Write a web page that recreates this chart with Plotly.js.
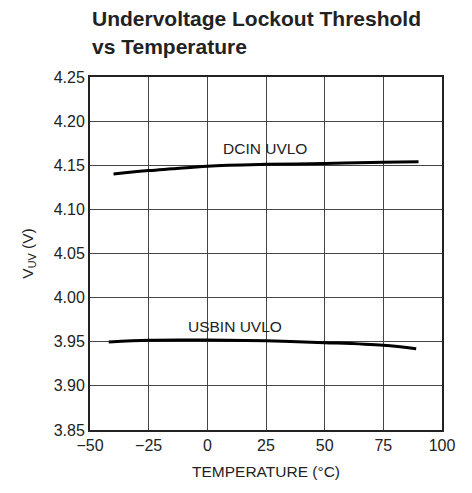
<!DOCTYPE html>
<html>
<head>
<meta charset="utf-8">
<script src="https://cdn.plot.ly/plotly-3.0.1.min.js"></script>
<style>html,body{margin:0;padding:0;background:#fff;}#chart{width:472px;height:493px;}</style>
</head>
<body>
<div id="chart"></div>
<script>
const tempDcin = [-40, -25, -15, 0, 25, 50, 75, 90];
const dcinUvlo = [4.1402, 4.1440, 4.1460, 4.1490, 4.1510, 4.1520, 4.1535, 4.1540];
const tempUsbin = [-42, -25, -10, 0, 25, 50, 75, 89];
const usbinUvlo = [3.9497, 3.9516, 3.9520, 3.9520, 3.9510, 3.9490, 3.9460, 3.9420];
const xTicks = [-50, -25, 0, 25, 50, 75, 100];
const xTickText = ['\u221250', '\u221225', '0', '25', '50', '75', '100'];
const yTicks = [3.85, 3.90, 3.95, 4.00, 4.05, 4.10, 4.15, 4.20, 4.25];
const yTickText = ['3.85', '3.90', '3.95', '4.00', '4.05', '4.10', '4.15', '4.20', '4.25'];
const seriesNames = ['DCIN UVLO', 'USBIN UVLO'];
const titleLines = ['Undervoltage Lockout Threshold', 'vs Temperature'];

const font = 'Liberation Sans, Arial, sans-serif';
const traces = [
  {x: tempDcin, y: dcinUvlo, name: seriesNames[0], mode: 'lines', line: {color: '#000', width: 3, shape: 'spline'}},
  {x: tempUsbin, y: usbinUvlo, name: seriesNames[1], mode: 'lines', line: {color: '#000', width: 3, shape: 'spline'}}
];
const layout = {
  width: 472, height: 493,
  margin: {l: 90, r: 30, t: 77, b: 63},
  paper_bgcolor: '#fff', plot_bgcolor: '#fff',
  showlegend: false,
  font: {family: font, size: 16, color: '#222'},
  xaxis: {
    range: [-50, 100], tickvals: xTicks, ticktext: xTickText,
    showgrid: true, gridcolor: '#444', gridwidth: 1,
    showline: true, linecolor: '#222', linewidth: 2, mirror: true,
    ticks: '', zeroline: false, fixedrange: true,
    tickfont: {family: font, size: 16, color: '#222'},
    title: {text: 'TEMPERATURE (\u00B0C)', font: {family: font, size: 15.5, color: '#222'}, standoff: 13}
  },
  yaxis: {
    range: [3.85, 4.25], tickvals: yTicks, ticktext: yTickText,
    showgrid: true, gridcolor: '#444', gridwidth: 1,
    showline: true, linecolor: '#222', linewidth: 2, mirror: true,
    ticks: '', zeroline: false, fixedrange: true,
    tickfont: {family: font, size: 16, color: '#222'},
    title: {text: 'V<sub>UV</sub> (V)', font: {family: font, size: 15.5, color: '#222'}, standoff: 16}
  },
  annotations: [
    {x: 0, y: 1.167, xref: 'paper', yref: 'paper', xanchor: 'left', yanchor: 'middle', text: '<b>' + titleLines[0] + '</b>', showarrow: false, font: {family: font, size: 21, color: '#222'}},
    {x: 0, y: 1.0864, xref: 'paper', yref: 'paper', xanchor: 'left', yanchor: 'middle', text: '<b>' + titleLines[1] + '</b>', showarrow: false, font: {family: font, size: 21, color: '#222'}},
    {x: 24.6, y: 4.1686, xref: 'x', yref: 'y', text: seriesNames[0], showarrow: false, font: {family: font, size: 15.5, color: '#222'}},
    {x: 11.7, y: 3.9676, xref: 'x', yref: 'y', text: seriesNames[1], showarrow: false, font: {family: font, size: 15.5, color: '#222'}}
  ]
};
Plotly.newPlot('chart', traces, layout, {displayModeBar: false, staticPlot: true});
</script>
</body>
</html>
